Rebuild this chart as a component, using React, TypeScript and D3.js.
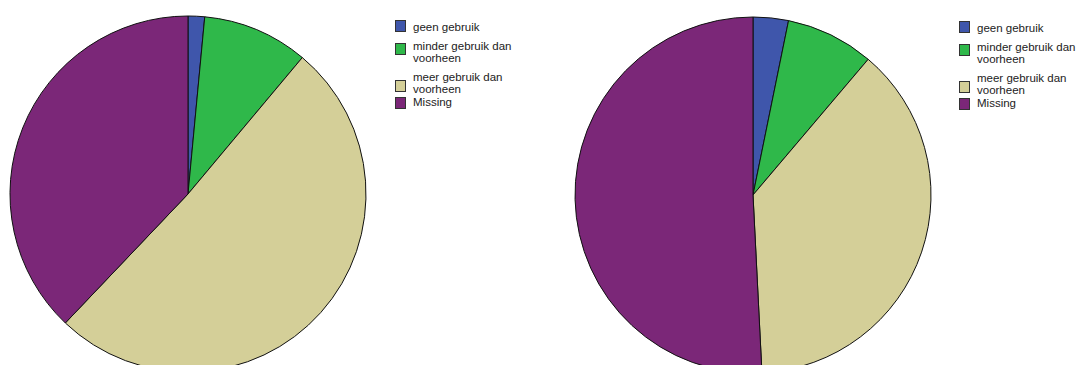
import React from "react";
import * as d3 from "d3";

const categories = ["geen gebruik", "minder gebruik dan voorheen", "meer gebruik dan voorheen", "Missing"];
const legendLines = [["geen gebruik"], ["minder gebruik dan", "voorheen"], ["meer gebruik dan", "voorheen"], ["Missing"]];
const colors = ["#3F56AB", "#2FB84A", "#D4CF98", "#7B2778"];
const leftValues = [1.5, 9.6, 51.0, 37.9];
const rightValues = [3.2, 8.0, 38.0, 50.8];

const W = 1076, H = 365;
const boxY = [0, 23, 60, 77];
const textY = [[11], [30, 41.5], [61, 72.5], [86]];

function Pie({ values, cx, cy, r, lx, ly }: { values: number[]; cx: number; cy: number; r: number; lx: number; ly: number }) {
  const pie = d3.pie<number>().sort(null).value((d) => d);
  const arc = d3.arc<d3.PieArcDatum<number>>().innerRadius(0).outerRadius(r);
  const arcs = pie(values);
  return (
    <g>
      <g transform={`translate(${cx},${cy})`}>
        {arcs.map((a, i) => (
          <path key={i} d={arc(a) || ""} fill={colors[i]} stroke="#111" strokeWidth={1} />
        ))}
      </g>
      <g transform={`translate(${lx},${ly})`}>
        {categories.map((c, i) => (
          <g key={c}>
            <rect x={0.5} y={boxY[i] + 0.5} width={10} height={11} fill={colors[i]} stroke="#333" strokeWidth={1} />
            {legendLines[i].map((t, j) => (
              <text key={j} x={18} y={textY[i][j]} fontSize={11.5} fontFamily="Liberation Sans, Arial, sans-serif" fill="#222">
                {t}
              </text>
            ))}
          </g>
        ))}
      </g>
    </g>
  );
}

export default function App() {
  return (
    <svg width={W} height={H} style={{ position: "absolute", left: 0, top: 0, background: "#fff" }}>
      <Pie values={leftValues} cx={188} cy={194} r={178} lx={395} ly={20} />
      <Pie values={rightValues} cx={753} cy={195} r={178} lx={959} ly={21} />
    </svg>
  );
}
